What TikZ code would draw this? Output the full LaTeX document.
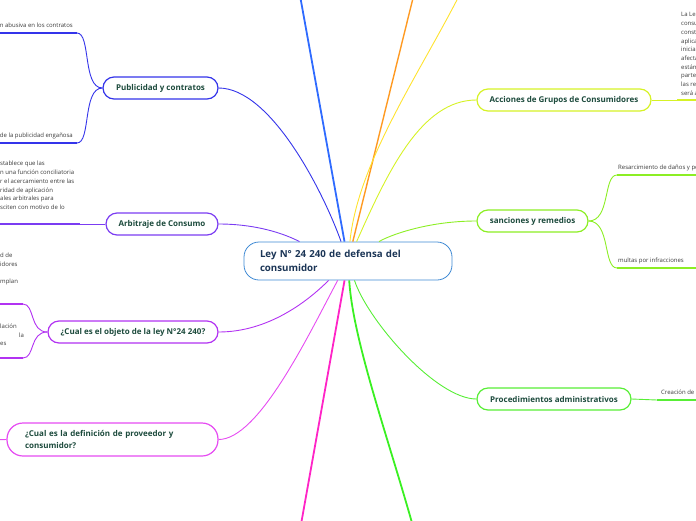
\documentclass[tikz,border=0pt]{standalone}
\usepackage{fontspec}
\setmainfont{Open Sans}
\usetikzlibrary{positioning}

\definecolor{rootblue}{HTML}{3F8AD4}
\definecolor{roottext}{HTML}{1B3556}
\definecolor{topictext}{HTML}{1D4B3D}
\definecolor{leaftext}{HTML}{3A3A3A}
\definecolor{skyblue}{HTML}{2F6BFF}
\definecolor{orangeb}{HTML}{FF9A22}
\definecolor{yellowb}{HTML}{FFE22E}
\definecolor{lemonb}{HTML}{D6F226}
\definecolor{limeb}{HTML}{8CEE24}
\definecolor{greenb}{HTML}{3AF022}
\definecolor{procb}{HTML}{58EE36}
\definecolor{pubb}{HTML}{3434EA}
\definecolor{arbb}{HTML}{7B3CF2}
\definecolor{objb}{HTML}{B232F2}
\definecolor{defb}{HTML}{E64CF2}
\definecolor{pinkb}{HTML}{FF24C6}

\begin{document}
\begin{tikzpicture}[x=1pt,y=-1pt,
			root/.style={
				draw=rootblue,
				line width=0.8pt,
				rounded corners=15pt,
				fill=white,
				text=roottext,
				font=\fontsize{9.7}{14}\selectfont\bfseries,
				text width=176pt,
				align=left,
				inner xsep=16pt,
				minimum height=38pt
			},
			topic/.style={
				draw,
				line width=1.2pt,
				rounded corners=11pt,
				fill=white,
				text=topictext,
				font=\fontsize{8}{12}\selectfont\bfseries,
				minimum height=22pt,
				inner xsep=6pt
			},
			leaf/.style={
				text=leaftext,
				font=\fontsize{6}{8.7}\selectfont,
				inner sep=0pt,
				text depth=1.4pt,
				align=left
			},
			branch/.style={line width=0.9pt},
			stem/.style={line width=2pt},
			trunk/.style={line width=1.8pt}]
			
			\useasboundingbox (0,0) rectangle (696,520);
			\clip (0,0) rectangle (696,520);
			
			\node[root](root) at (348,261){Ley N° 24 240 de defensa del\\consumidor};
			
			\node[topic,draw=pubb,minimum width=115pt](pub) at (160.5,88){Publicidad y contratos};
			
			\node[topic,draw=arbb,minimum width=112pt](arb) at (162,224){Arbitraje de Consumo};
			
			\node[topic,draw=objb,minimum width=170pt](obj) at (133,332){¿Cual es el objeto de la ley N°24 240?};
			
			\node[topic,draw=defb,rounded corners=16pt,minimum height=33pt,text width=175pt,inner xsep=18pt,align=left](defi) at (112.5,439.5){¿Cual es la definición de proveedor y\\consumidor?};
			
			\node[topic,draw=lemonb,minimum width=174pt](acc) at (564,100){Acciones de Grupos de Consumidores};
			
			\node[topic,draw=limeb,minimum width=111pt](sanc) at (532.5,221){sanciones y remedios};
			
			\node[topic,draw=procb,minimum width=154pt](proc) at (554,399){Procedimientos administrativos};
			
			\coordinate(topa) at (299,-10);
			\coordinate(topb) at (415,-10);
			\coordinate(topc) at (462,-10);
			\coordinate(bota) at (300,530);
			\coordinate(botb) at (414,530);
			
			\draw[trunk,skyblue](root)--(topa);
			
			\draw[line width=1.4pt,orangeb](root)--(topb);
			
			\draw[branch,yellowb](root) .. controls +(10,-100) and +(-40,80) .. (topc);
			
			\draw[trunk,pinkb](root)--(bota);
			
			\draw[trunk,greenb](root) .. controls +(5,80) and +(-25,-90) .. (botb);
			
			\draw[branch,pubb](pub.east) .. controls +(52,0) and +(-25,-70) .. (root);
			
			\draw[branch,arbb](arb.east) .. controls +(50,0) and +(-50,-20) .. (root);
			
			\draw[branch,objb](obj.east) .. controls +(50,0) and +(-40,40) .. (root);
			
			\draw[branch,defb](defi.east) .. controls +(40,0) and +(-40,75) .. (root);
			
			\draw[branch,lemonb](acc.west) .. controls +(-55,0) and +(40,-90) .. (root);
			
			\draw[branch,limeb](sanc.west) .. controls +(-50,0) and +(40,-25) .. (root);
			
			\draw[branch,procb](proc.west) .. controls +(-40,0) and +(20,60) .. (root);
			
			% Publicidad y contratos
			\coordinate(pa) at (77,33);
			\coordinate(pa0) at (-5,33);
			\coordinate(pb) at (77,143);
			\coordinate(pb0) at (-5,143);
			
			\draw[branch,pubb](pub.west) .. controls +(-20,0) and +(14,0) .. (pa);
			\draw[branch,pubb](pub.west) .. controls +(-20,0) and +(14,0) .. (pb);
			\draw[stem,pubb](pa)--(pa0);
			\draw[stem,pubb](pb)--(pb0);
			
			\node[leaf,above left=3.6pt and 4pt of pa](pat){n abusiva en los contratos};
			\node[leaf,above left=3.6pt and 4pt of pb](pbt){de la publicidad engañosa};
			
			% Arbitraje de Consumo
			\coordinate(aa) at (80,224);
			\coordinate(aa0) at (-5,224);
			
			\draw[branch,arbb](arb.west)--(aa);
			\draw[stem,arbb](aa)--(aa0);
			
			\node[leaf,anchor=south west](aat) at (0,211){stablece que las\\n una función conciliatoria\\r el acercamiento entre las\\ridad de aplicación\\ales arbitrales para\\sciten con motivo de lo};
			
			% objeto de la ley
			\coordinate(oa) at (23,304);
			\coordinate(oa0) at (-5,304);
			\coordinate(ob) at (23,358);
			\coordinate(ob0) at (-5,358);
			
			\draw[branch,objb](obj.west) .. controls +(-18,0) and +(12,0) .. (oa);
			\draw[branch,objb](obj.west) .. controls +(-18,0) and +(12,0) .. (ob);
			\draw[stem,objb](oa)--(oa0);
			\draw[stem,objb](ob)--(ob0);
			
			\node[leaf,anchor=south west](oat) at (0,285){d de\\idores\\\mbox{}\\mplan};
			\node[leaf,anchor=south west](obt) at (0,347){lación\\\mbox{}\\es};
			\node[leaf,anchor=base west](obl) at (19,337){la};
			
			% definicion
			\coordinate(da0) at (-10,440);
			
			\draw[branch,defb](defi.west)--(da0);
			
			% Acciones de Grupos de Consumidores
			\coordinate(ca) at (677,100);
			\coordinate(ca0) at (705,100);
			
			\draw[branch,lemonb](acc.east)--(ca);
			\draw[stem,lemonb](ca)--(ca0);
			
			\node[leaf,above right=3.2pt and 4pt of ca](cat){La Le\\consu\\const\\aplica\\inicia\\afecta\\están\\parte\\las re\\será a};
			
			% sanciones y remedios
			\coordinate(sa) at (617,175);
			\coordinate(sa0) at (705,175);
			\coordinate(sb) at (617,268);
			\coordinate(sb0) at (705,268);
			
			\draw[branch,limeb](sanc.east) .. controls +(22,0) and +(-14,0) .. (sa);
			\draw[branch,limeb](sanc.east) .. controls +(22,0) and +(-14,0) .. (sb);
			\draw[stem,limeb](sa)--(sa0);
			\draw[stem,limeb](sb)--(sb0);
			
			\node[leaf,above right=3.6pt and 1pt of sa](sat){Resarcimiento de daños y pe};
			\node[leaf,above right=3.6pt and 1pt of sb](sbt){multas por infracciones};
			
			% Procedimientos administrativos
			\coordinate(pra) at (657,400);
			\coordinate(pra0) at (705,400);
			
			\draw[branch,procb](proc.east)--(pra);
			\draw[stem,procb](pra)--(pra0);
			
			\node[leaf,above right=3.6pt and 4pt of pra](prat){Creación de};
			
		\end{tikzpicture}
\end{document}
